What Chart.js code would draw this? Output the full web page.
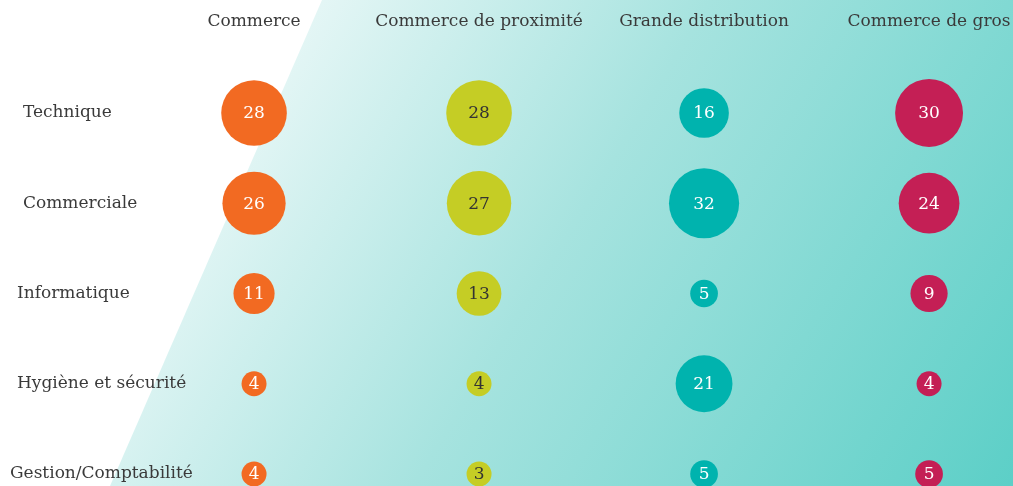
<!DOCTYPE html>
<html>
<head>
<meta charset="utf-8">
<script src="https://cdn.jsdelivr.net/npm/chart.js@4/dist/chart.umd.min.js"></script>
<style>
  html, body { margin: 0; padding: 0; background: #fff; }
  #wrap { width: 1013px; height: 486px; position: relative; }
</style>
</head>
<body>
<div id="wrap"><canvas id="bubbleChart"></canvas></div>
<script>
// Données
const secteurs = ['Commerce', 'Commerce de proximité', 'Grande distribution', 'Commerce de gros'];
const competences = ['Technique', 'Commerciale', 'Informatique', 'Hygiène et sécurité', 'Gestion/Comptabilité'];
const commerce = [28, 26, 11, 4, 4];
const proximite = [28, 27, 13, 4, 3];
const grandeDistrib = [16, 32, 5, 21, 5];
const gros = [30, 24, 9, 4, 5];

const couleurs = ['#f26a22', '#c5cd25', '#00b3ae', '#c41f55'];
const couleursTexte = ['#fff', '#333', '#fff', '#fff'];
const decalageLabels = [23, 23, 17, 17, 10];
const police = '"DejaVu Serif", serif';

const series = [commerce, proximite, grandeDistrib, gros];

function rayon(v) {
    return Math.max(12.5, 6.2 * Math.sqrt(v));
}

// fond blanc + dégradé en diagonale
const fondPlugin = {
    id: 'fond',
    beforeDraw(chart) {
        const ctx = chart.ctx;
        const w = chart.width, h = chart.height;
        ctx.save();
        ctx.fillStyle = '#fff';
        ctx.fillRect(0, 0, w, h);
        ctx.beginPath();
        ctx.moveTo(322, 0);
        ctx.lineTo(w, 0);
        ctx.lineTo(w, h);
        ctx.lineTo(110, h);
        ctx.closePath();
        const g = ctx.createLinearGradient(220, 0, w, h);
        g.addColorStop(0, '#f4fbfb');
        g.addColorStop(0.45, '#a6e3df');
        g.addColorStop(1, '#5ccfc7');
        ctx.fillStyle = g;
        ctx.fill();
        ctx.restore();
    },
};

// libellés des lignes / colonnes + valeurs dans les bulles
const textePlugin = {
    id: 'textes',
    afterDatasetsDraw(chart) {
        const ctx = chart.ctx;
        const xs = chart.scales.x, ys = chart.scales.y;
        ctx.save();
        ctx.font = '17px ' + police;
        ctx.fillStyle = '#3a3a3a';
        ctx.textBaseline = 'middle';
        ctx.textAlign = 'center';
        secteurs.forEach((s, i) => ctx.fillText(s, xs.getPixelForValue(i), 22));
        ctx.textAlign = 'left';
        competences.forEach((c, j) => ctx.fillText(c, decalageLabels[j], ys.getPixelForValue(j)));

        ctx.textAlign = 'center';
        chart.data.datasets.forEach((ds, i) => {
            const meta = chart.getDatasetMeta(i);
            meta.data.forEach((pt, j) => {
                ctx.fillStyle = couleursTexte[i];
                ctx.fillText(String(ds.data[j].v), pt.x, pt.y + 1);
            });
        });
        ctx.restore();
    },
};

const ctxBulles = document.querySelector('#bubbleChart');

const bubbleChart = new Chart(ctxBulles, {
    type: 'bubble',
    data: {
        datasets: series.map((vals, i) => ({
            label: secteurs[i],
            data: vals.map((v, j) => ({ x: i, y: j, v: v, r: rayon(v) })),
            backgroundColor: couleurs[i],
            borderColor: couleurs[i],
            borderWidth: 0,
            hoverRadius: 0,
            clip: false,
        })),
    },
    options: {
        responsive: true,
        maintainAspectRatio: false,
        animation: false,
        layout: { padding: 0, autoPadding: false },
        scales: {
            x: { type: 'linear', min: -1.129, max: 3.373, display: false },
            y: { type: 'linear', min: -1.252, max: 4.133, reverse: true, display: false },
        },
        plugins: {
            legend: { display: false },
            tooltip: { enabled: false },
        },
    },
    plugins: [fondPlugin, textePlugin],
});
</script>
</body>
</html>
